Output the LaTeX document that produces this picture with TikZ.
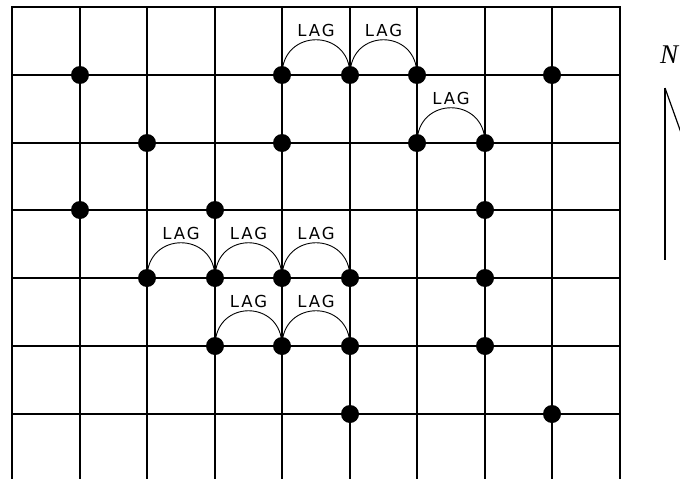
\documentclass[tikz,border=0pt]{standalone}
\usepackage{fontspec}
\usepackage{tikz}
\newfontfamily\laglettering[LetterSpace=12]{DejaVu Sans}
\newfontfamily\northlettering{Liberation Serif}
\newcommand{\lagfont}{\linespread{1}\fontsize{16.5}{18}\laglettering}
\newcommand{\northfont}{\fontsize{27}{30}\northlettering\itshape}
\tikzset{
    lag/chart/.style={x=1pt, y=1pt},
    lag/grid/.style={line width=2pt, line cap=rect, draw=black},
    lag/dot/.style={circle, fill=black, inner sep=0pt, minimum size=18pt},
    lag/arc/.style={line width=0.9pt, draw=black},
    lag/label/.style={font=\lagfont, anchor=base, inner sep=0pt, yshift=3.5pt},
    lag/north/.style={line width=1.2pt, draw=black}
}

\begin{document}
\begin{tikzpicture}[lag/chart]
    \useasboundingbox (0,0) rectangle (680,-479);
    \clip (0,0) rectangle (680,-479);
    % street grid, open at the bottom
    \foreach \i in {0,...,9}
        \draw[lag/grid] ({round(12+67.5*\i)},-7) -- ({round(12+67.5*\i)},-490);
    \foreach \j in {0,...,6}
        \draw[lag/grid] (12,{-round(7+67.8*\j)}) -- (620,{-round(7+67.8*\j)});
    % sample points, named p<column><row>
    \foreach \i/\j in {1/1,4/1,5/1,6/1,8/1,2/2,4/2,6/2,7/2,1/3,3/3,7/3,2/4,3/4,4/4,5/4,7/4,3/5,4/5,5/5,7/5,5/6,8/6}
        \node[lag/dot] (p\i\j) at ({round(12+67.5*\i)},{-round(7+67.8*\j)}) {};
    % lag arcs between neighbouring points
    \foreach \source/\target in {41/51,51/61,62/72,24/34,34/44,44/54,35/45,45/55}
        \draw[lag/arc] (p\source.center) .. controls +(0,47) and +(0,47) .. (p\target.center) node[lag/label,pos=0.5] {LAG};
    % north arrow
    \node[font=\northfont, inner sep=0pt] (north) at (669,-55) {N};
    \coordinate (needle) at (665,-88);
    \draw[lag/north] (needle) -- (665,-260);
    \draw[lag/north] (needle) -- ++(19,-53);
\end{tikzpicture}
\end{document}
